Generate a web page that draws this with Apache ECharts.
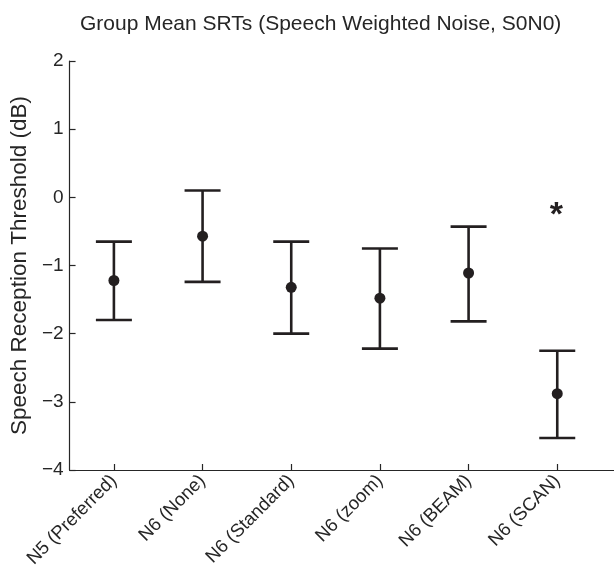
<!DOCTYPE html>
<html>
<head>
<meta charset="utf-8">
<script src="https://cdn.jsdelivr.net/npm/echarts@6/dist/echarts.min.js"></script>
<style>
html,body{margin:0;padding:0;background:#fff;}
#chart{width:614px;height:573px;}
</style>
</head>
<body>
<div id="chart"></div>
<script>
const titleText = 'Group Mean SRTs (Speech Weighted Noise, S0N0)';
const yAxisName = 'Speech Reception Threshold (dB)';
const categories = ['N5 (Preferred)', 'N6 (None)', 'N6 (Standard)', 'N6 (zoom)', 'N6 (BEAM)', 'N6 (SCAN)'];
const meanValues  = [-1.22, -0.57, -1.32, -1.48, -1.11, -2.88];
const upperValues = [-0.65,  0.10, -0.65, -0.75, -0.43, -2.25];
const lowerValues = [-1.80, -1.24, -2.00, -2.22, -1.82, -3.53];
const yTicks = [-4, -3, -2, -1, 0, 1, 2];
const asteriskCategory = 6;
const asteriskValue = -0.18;

const ink = '#231f20';
const positions = categories.map((c, i) => i + 1);

const chart = echarts.init(document.getElementById('chart'), null, {renderer: 'canvas'});
chart.setOption({
  animation: false,
  backgroundColor: '#fff',
  title: {
    text: titleText,
    left: 75, top: 9,
    textStyle: {fontFamily: 'Liberation Sans', fontWeight: 'normal', fontSize: 21, color: '#262626'}
  },
  grid: {left: 66, top: 61, right: 0, bottom: 103, containLabel: false},
  xAxis: {
    type: 'value', min: 0.5, max: 6.64,
    splitLine: {show: false},
    axisLine: {onZero: false, lineStyle: {color: '#262626', width: 1.2}},
    axisTick: {show: true, inside: true, length: 6, customValues: positions, lineStyle: {color: '#262626', width: 1.2}},
    axisLabel: {
      customValues: positions, rotate: 45, margin: 8,
      fontFamily: 'Liberation Sans', fontSize: 18.5, color: '#262626',
      formatter: v => categories[Math.round(v) - 1] || ''
    }
  },
  yAxis: {
    type: 'value', min: yTicks[0], max: yTicks[yTicks.length - 1], interval: 1,
    name: yAxisName, nameLocation: 'middle', nameGap: 35,
    nameTextStyle: {fontFamily: 'Liberation Sans', fontSize: 22.5, color: '#262626'},
    splitLine: {show: false},
    axisLine: {show: true, onZero: false, lineStyle: {color: '#262626', width: 1.2}},
    axisTick: {show: true, inside: true, length: 6, lineStyle: {color: '#262626', width: 1.2}},
    axisLabel: {
      fontFamily: 'Liberation Sans', fontSize: 19, color: '#262626', margin: 6,
      formatter: v => (v < 0 ? '\u2212' + Math.abs(v) : String(v))
    }
  },
  series: [
    {
      type: 'custom',
      data: positions.map((p, i) => [p, lowerValues[i], upperValues[i]]),
      renderItem: function (params, api) {
        const x = api.value(0);
        const lo = api.coord([x, api.value(1)]);
        const hi = api.coord([x, api.value(2)]);
        const hw = 18;
        const st = {stroke: ink, lineWidth: 2.6};
        return {
          type: 'group',
          children: [
            {type: 'line', shape: {x1: lo[0], y1: lo[1], x2: hi[0], y2: hi[1]}, style: st},
            {type: 'line', shape: {x1: lo[0] - hw, y1: lo[1], x2: lo[0] + hw, y2: lo[1]}, style: st},
            {type: 'line', shape: {x1: hi[0] - hw, y1: hi[1], x2: hi[0] + hw, y2: hi[1]}, style: st}
          ]
        };
      },
      z: 2
    },
    {
      type: 'scatter',
      data: positions.map((p, i) => [p, meanValues[i]]),
      symbol: 'circle', symbolSize: 11,
      itemStyle: {color: ink, opacity: 1},
      z: 3
    },
    {
      type: 'custom',
      data: [[asteriskCategory, asteriskValue]],
      renderItem: function (params, api) {
        const pt = api.coord([api.value(0), api.value(1)]);
        return {
          type: 'text',
          x: pt[0] - 1, y: pt[1] + 6,
          style: {text: '*', font: 'bold 34px Liberation Sans', fill: ink, align: 'center', verticalAlign: 'middle'}
        };
      },
      z: 4
    }
  ]
});
</script>
</body>
</html>
